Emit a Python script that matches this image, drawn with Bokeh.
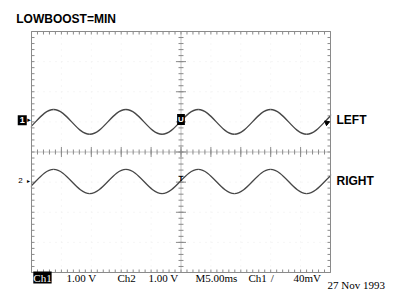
import numpy as np
from bokeh.plotting import figure
from bokeh.models import Label
from bokeh.embed import file_html
from bokeh.resources import INLINE

# ---- data ----
title_text = "LOWBOOST=MIN"
time_per_div_ms = 5.0
volts_per_div = 1.0
# extrema times (ms) of both traces: trough, peak, trough, ...
extrema_t = [-2.35, 3.70, 9.74, 15.79, 21.83, 27.88, 33.92, 39.97, 46.01, 52.06]
left_levels = [0.59, 1.41, 0.59, 1.41, 0.59, 1.41, 0.59, 1.41, 0.59, 1.41]
right_levels = [-1.38, -0.58, -1.38, -0.58, -1.38, -0.58, -1.38, -0.58, -1.38, -0.58]
ch1_ground = 1.0
ch2_ground = -1.0
channel_names = ["LEFT", "RIGHT"]
readout_texts = ["1.00 V", "Ch2", "1.00 V", "M5.00ms", "Ch1", "/", "40mV"]
readout_x = [5.85, 14.38, 19.57, 27.42, 36.29, 40.0, 43.8]
date_text = "27 Nov 1993"
time_text = "10:18:33"

GRAT = "#8a8a8a"
TRACE = "#474747"

W, H = 393, 290
X0PX, X1PX, Y0PX, Y1PX = 31.0, 330.0, 31.0, 272.0   # graticule box on the canvas
px_x = 50.0 / (X1PX - X0PX)
px_y = 8.0 / (Y1PX - Y0PX)
xr = (-X0PX * px_x, 50 + (W - X1PX) * px_x)
yr = (-4 - (H - Y1PX) * px_y, 4 + Y0PX * px_y)

p = figure(width=W, height=H, x_range=xr, y_range=yr,
           min_border=0, min_border_left=0, min_border_right=0,
           min_border_top=0, min_border_bottom=0,
           output_backend="svg", toolbar_location=None,
           x_axis_location=None, y_axis_location=None)
p.grid.visible = False
p.outline_line_color = None
p.background_fill_color = "white"
p.border_fill_color = "white"

# faint division dots
for xv in np.arange(5, 50, 5):
    p.line([xv, xv], [-4, 4], line_color="#ededed", line_dash="1 5", line_width=1)
for yv in np.arange(-3, 4, 1):
    p.line([0, 50], [yv, yv], line_color="#ededed", line_dash="1 5", line_width=1)

# centre cross
p.line([25, 25], [-4, 4], line_color=GRAT, line_dash="1 1", line_width=1)
p.line([0, 50], [0, 0], line_color=GRAT, line_dash="1 1", line_width=1)

minor_x = np.arange(0, 50.001, 1.0)
minor_y = np.arange(-4, 4.001, 0.2)
major_x = np.arange(0, 50.001, 5.0)
major_y = np.arange(-4, 4.001, 1.0)
p.segment(minor_x, -2.5 * px_y, minor_x, 2.5 * px_y, line_color=GRAT, line_width=1)
p.segment(major_x, -5 * px_y, major_x, 5 * px_y, line_color=GRAT, line_width=1)
p.segment(25 - 2.5 * px_x, minor_y, 25 + 2.5 * px_x, minor_y, line_color=GRAT, line_width=1)
p.segment(25 - 5 * px_x, major_y, 25 + 5 * px_x, major_y, line_color=GRAT, line_width=1)
p.segment(minor_x, 4, minor_x, 4 - 3 * px_y, line_color=GRAT, line_width=1)
p.segment(minor_x, -4, minor_x, -4 + 3 * px_y, line_color=GRAT, line_width=1)
p.segment(0, minor_y, 3 * px_x, minor_y, line_color=GRAT, line_width=1)
p.segment(50, minor_y, 50 - 3 * px_x, minor_y, line_color=GRAT, line_width=1)

# traces: half-cycles between extrema as cubic curves
K = 0.3634
t = np.array(extrema_t)
x0, x1 = t[:-1], t[1:]
dx = x1 - x0
for lv in (left_levels, right_levels):
    y = np.array(lv)
    p.bezier(x0=x0, y0=y[:-1], x1=x1, y1=y[1:],
             cx0=x0 + K * dx, cy0=y[:-1], cx1=x1 - K * dx, cy1=y[1:],
             line_color=TRACE, line_width=1.3)

# mask the trace outside the screen area
p.quad(left=[xr[0], 50 + 0.6 * px_x], right=[-0.6 * px_x, xr[1]],
       bottom=[-3.5, -3.5], top=[3.5, 3.5], fill_color="white", line_color=None)

# graticule border
p.line([0, 50, 50, 0, 0], [-4, -4, 4, 4, -4], line_color=GRAT, line_width=1)

# end-of-trace arrow for ch1
p.scatter([49.4], [ch1_ground - 0.03], marker="triangle", size=5, angle=0.9,
          fill_color="black", line_color="black")

# channel ground markers
p.add_layout(Label(x=-2.3, y=ch1_ground + 0.05, text="1", text_font="Liberation Sans",
                   text_font_size="9px", text_font_style="bold", text_color="white",
                   background_fill_color="black", text_align="left", text_baseline="middle",
                   padding=2))
p.add_layout(Label(x=-2.2, y=ch2_ground + 0.04, text="2", text_font="Liberation Sans",
                   text_font_size="8px", text_color="black",
                   text_align="left", text_baseline="middle"))
p.add_layout(Label(x=-0.75, y=ch2_ground + 0.04, text="\u25b8", text_font="DejaVu Sans",
                   text_font_size="6px", text_color="black",
                   text_align="left", text_baseline="middle"))
p.add_layout(Label(x=-0.7, y=ch1_ground + 0.05, text="\u25b8", text_font="DejaVu Sans",
                   text_font_size="7px", text_color="black",
                   text_align="left", text_baseline="middle"))
# trigger markers at centre
p.add_layout(Label(x=25, y=ch1_ground + 0.08, text="U", text_font="Liberation Sans",
                   text_font_size="8px", text_font_style="bold", text_color="white",
                   background_fill_color="black", text_align="center", text_baseline="middle",
                   padding=1))
p.add_layout(Label(x=25, y=ch2_ground + 0.12, text="T", text_font="Liberation Sans",
                   text_font_size="8px", text_font_style="bold", text_color="black",
                   text_align="center", text_baseline="middle"))

# channel names
for name, yv in zip(channel_names, [ch1_ground + 0.06, ch2_ground + 0.04]):
    p.add_layout(Label(x=51.0, y=yv, text=name, text_font="Liberation Sans",
                       text_font_size="12px", text_font_style="bold", text_color="black",
                       text_align="left", text_baseline="middle"))

# title
p.add_layout(Label(x=-2.55, y=4.66, text=title_text, text_font="Liberation Sans",
                   text_font_size="12px", text_font_style="bold", text_color="black",
                   text_align="left", text_baseline="top"))

# bottom readout
p.add_layout(Label(x=0.3, y=-3.97, text="Ch1", text_font="Liberation Serif",
                   text_font_size="11px", text_color="white", background_fill_color="black",
                   text_align="left", text_baseline="top", padding=0))
for txt, xv in zip(readout_texts, readout_x):
    p.add_layout(Label(x=xv, y=-3.97, text=txt, text_font="Liberation Serif",
                       text_font_size="11px", text_color="black",
                       text_align="left", text_baseline="top"))
p.add_layout(Label(x=49.5, y=-4.2, text=date_text, text_font="Liberation Serif",
                   text_font_size="11px", text_color="black",
                   text_align="left", text_baseline="top"))
p.add_layout(Label(x=51.0, y=-4.5, text=time_text, text_font="Liberation Serif",
                   text_font_size="11px", text_color="black",
                   text_align="left", text_baseline="top"))

open("out.html", "w").write(file_html(p, INLINE))
